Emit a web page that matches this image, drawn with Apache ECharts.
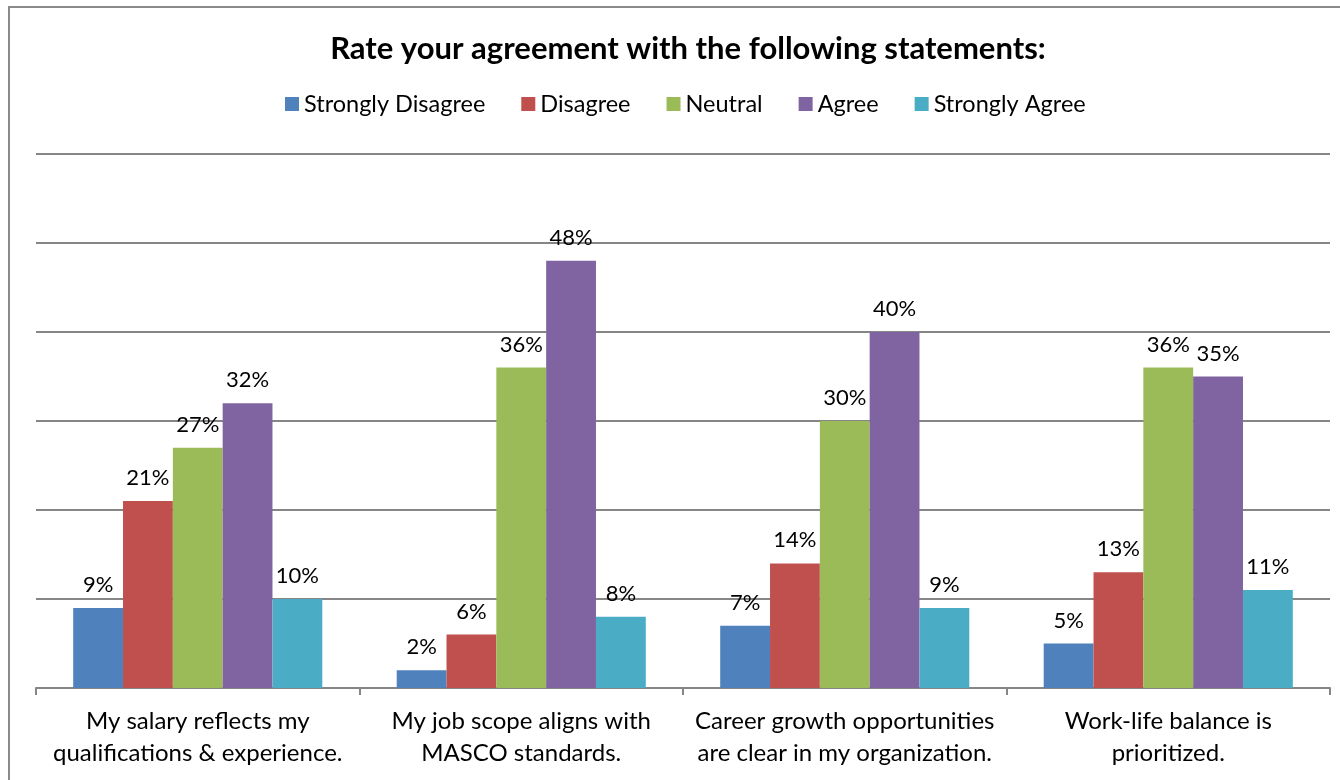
<!DOCTYPE html>
<html>
<head>
<meta charset="utf-8">
<style>
  html, body { margin: 0; padding: 0; background: #fff; }
  #chart { width: 1340px; height: 780px; }
</style>
<script src="https://cdn.jsdelivr.net/npm/echarts@6/dist/echarts.min.js"></script>
</head>
<body>
<div id="chart"></div>
<script>
// Survey statements (category axis)
const statements = [
  'My salary reflects my\nqualifications & experience.',
  'My job scope aligns with\nMASCO standards.',
  'Career growth opportunities\nare clear in my organization.',
  'Work-life balance is\nprioritized.'
];

// Share of respondents per answer, in percent
const stronglyDisagree = [9, 2, 7, 5];
const disagree         = [21, 6, 14, 13];
const neutral          = [27, 36, 30, 36];
const agree            = [32, 48, 40, 35];
const stronglyAgree    = [10, 8, 9, 11];

const seriesNames  = ['Strongly Disagree', 'Disagree', 'Neutral', 'Agree', 'Strongly Agree'];
const seriesData   = [stronglyDisagree, disagree, neutral, agree, stronglyAgree];
const seriesColors = ['#4F81BD', '#C0504D', '#9BBB59', '#8064A2', '#4BACC6'];

const FONT = 'Lato, "Open Sans", sans-serif';

const chart = echarts.init(document.getElementById('chart'), null, { renderer: 'canvas' });

chart.setOption({
  animation: false,
  color: seriesColors,
  title: {
    text: 'Rate your agreement with the following statements:',
    left: 683,
    textAlign: 'center',
    top: 28,
    textStyle: { fontFamily: FONT, fontSize: 31, fontWeight: 'bold', color: '#000' }
  },
  legend: {
    top: 87,
    left: 280,
    itemWidth: 14,
    itemHeight: 14,
    itemGap: 36,
    icon: 'rect',
    textStyle: { fontFamily: FONT, fontSize: 23.5, color: '#000' },
    data: seriesNames
  },
  grid: { left: 36, right: 10, top: 154, bottom: 92, containLabel: false },
  xAxis: {
    type: 'category',
    data: statements,
    axisLine: { lineStyle: { color: '#868686', width: 2 } },
    axisTick: { show: true, length: 7, lineStyle: { color: '#868686', width: 2 } },
    axisLabel: {
      fontFamily: FONT, fontSize: 24, color: '#000',
      lineHeight: 32, margin: 17, interval: 0
    }
  },
  yAxis: {
    type: 'value',
    min: 0, max: 60, interval: 10,
    axisLabel: { show: false },
    axisLine: { show: false },
    axisTick: { show: false },
    splitLine: { lineStyle: { color: '#868686', width: 2 } }
  },
  graphic: [{
    type: 'rect',
    shape: { x: 9, y: 7, width: 1360, height: 820 },
    style: { fill: 'none', stroke: '#8a8a8a', lineWidth: 2 },
    silent: true
  }],
  series: seriesNames.map((name, i) => ({
    name,
    type: 'bar',
    data: seriesData[i],
    barGap: '0%',
    barCategoryGap: '23%',
    label: {
      show: true,
      position: 'top',
      distance: 12,
      formatter: '{c}%',
      fontFamily: FONT,
      fontSize: 22,
      color: '#000'
    }
  }))
});
</script>
</body>
</html>
